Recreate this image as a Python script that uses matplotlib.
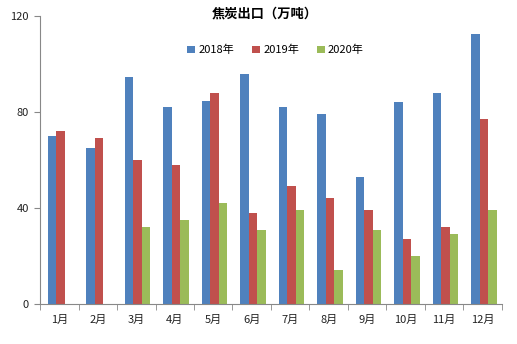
import numpy as np
import matplotlib
matplotlib.use("Agg")
import matplotlib.pyplot as plt

plt.rcParams['font.family'] = ['Noto Sans CJK SC', 'DejaVu Sans']

# -----------------------------
# Data (万吨)
# -----------------------------
months = ["1月", "2月", "3月", "4月", "5月", "6月",
          "7月", "8月", "9月", "10月", "11月", "12月"]
y2018 = [70, 65, 94.5, 82, 84.5, 96, 82, 79, 53, 84, 88, 112.5]
y2019 = [72, 69, 60, 58, 88, 38, 49, 44, 39, 27, 32, 77]
y2020 = [np.nan, np.nan, 32, 35, 42, 31, 39, 14, 31, 20, 29, 39]
series_names = ["2018年", "2019年", "2020年"]
colors = ["#4F81BD", "#C0504D", "#9BBB59"]
yticks = [0, 40, 80, 120]

fig = plt.figure(figsize=(5.17, 3.44), dpi=100)
ax = fig.add_axes([40 / 517, 1 - 304 / 344, 462 / 517, 288 / 344])

x = np.arange(len(months))
w = 0.22
for i, (vals, name, c) in enumerate(zip([y2018, y2019, y2020], series_names, colors)):
    ax.bar(x + (i - 1) * w + 0.03, vals, width=w, color=c, label=name)

ax.set_xlim(-0.5, len(months) - 0.5)
ax.set_ylim(0, 120)
ax.set_yticks(yticks)
ax.set_yticklabels([str(v) for v in yticks], fontsize=8, color="#222222")
ax.set_xticks(x)
ax.set_xticklabels(months, fontsize=8, color="#222222")
ax.set_xticks(np.arange(-0.5, len(months)), minor=True)
ax.tick_params(axis="x", which="major", length=0, pad=8)
ax.tick_params(axis="x", which="minor", length=4, color="#888888")
ax.tick_params(axis="y", length=4, color="#888888", pad=4)

for s in ["top", "right"]:
    ax.spines[s].set_visible(False)
for s in ["left", "bottom"]:
    ax.spines[s].set_color("#888888")

fig.text(265 / 517, 1 - 14 / 344, "焦炭出口（万吨）", ha="center", va="center",
         fontsize=9.5, fontweight="heavy")

ax.legend(loc="upper center", bbox_to_anchor=(0.51, 1 - 19 / 288), ncol=3,
          frameon=False, fontsize=8, handlelength=0.7, handleheight=0.7,
          handletextpad=0.3, columnspacing=1.6)

fig.savefig("out.png", dpi=100)
